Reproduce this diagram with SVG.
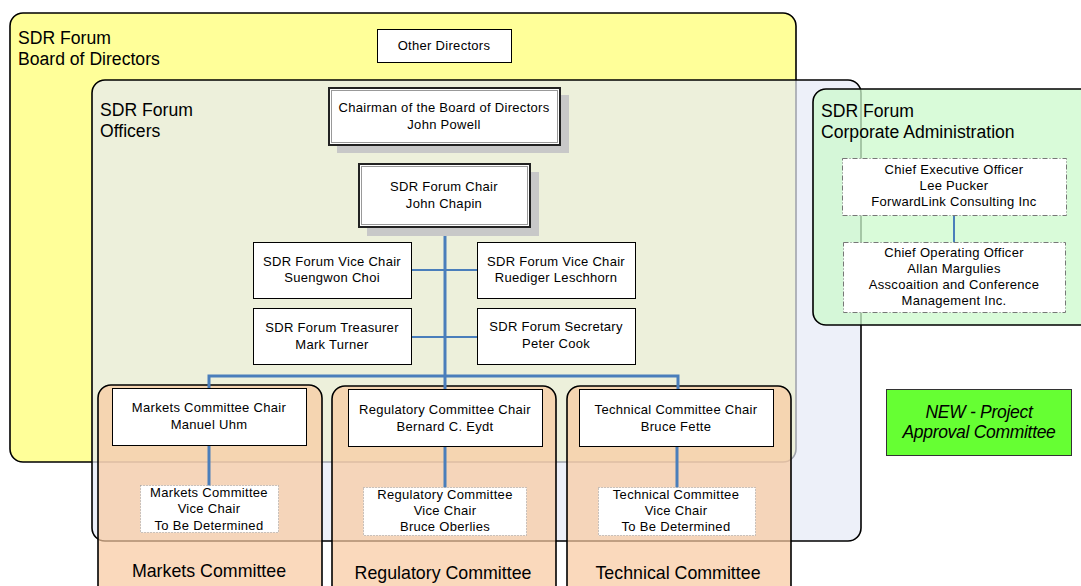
<svg xmlns="http://www.w3.org/2000/svg" width="1081" height="586" viewBox="0 0 1081 586">
<defs>
<style>
.t{font-family:"Liberation Sans",Arial,sans-serif;font-size:13px;letter-spacing:0.3px;fill:#000;text-anchor:middle}
.h{font-family:"Liberation Sans",Arial,sans-serif;font-size:17.6px;fill:#000}
.hc{font-family:"Liberation Sans",Arial,sans-serif;font-size:17.8px;fill:#000;text-anchor:middle}
.it{font-family:"Liberation Sans",Arial,sans-serif;font-size:17.5px;font-style:italic;letter-spacing:-0.3px;fill:#000;text-anchor:middle}
.box{fill:#fff;stroke:#000;stroke-width:1}
.dash{fill:#fff;stroke:#777;stroke-width:1;stroke-dasharray:5 2 1 2}
.dot{fill:#fff;stroke:#999;stroke-width:1;stroke-dasharray:1 2}
.shadow{fill:#c8c8c8}
.dbl{fill:#fff;stroke:#222;stroke-width:2}
.dbli{fill:none;stroke:#999;stroke-width:1}
.ln{stroke:#4a7ebb;stroke-width:3;fill:none}
.ln2{stroke:#4a7ebb;stroke-width:2;fill:none}
.cont{stroke:#000;stroke-width:1.6}
</style>
</defs>

<g id="board">
<rect x="10" y="13" width="786" height="449" rx="13" fill="#ffff99" class="cont"/>
<text class="h" x="18" y="44">SDR Forum</text>
<text class="h" x="18" y="65">Board of Directors</text>
</g>

<g id="officers">
<rect x="92" y="80" width="769" height="461" rx="13" fill="rgb(229,234,246)" fill-opacity="0.7" class="cont"/>
<text class="h" x="100" y="116">SDR Forum</text>
<text class="h" x="100" y="137">Officers</text>
</g>

<g id="corporate">
<rect x="813" y="89" width="280" height="236" rx="13" fill="#ccfacc" fill-opacity="0.75" class="cont"/>
<text class="h" x="821" y="117">SDR Forum</text>
<text class="h" x="821" y="138">Corporate Administration</text>
</g>

<g id="markets-committee">
<rect x="98" y="385" width="224" height="215" rx="13" fill="#f8c9a0" fill-opacity="0.7" class="cont"/>
<text class="hc" x="209" y="577">Markets Committee</text>
</g>
<g id="regulatory-committee">
<rect x="332" y="386" width="224" height="214" rx="13" fill="#f8c9a0" fill-opacity="0.7" class="cont"/>
<text class="hc" x="443" y="579">Regulatory Committee</text>
</g>
<g id="technical-committee">
<rect x="567" y="386" width="224" height="214" rx="13" fill="#f8c9a0" fill-opacity="0.7" class="cont"/>
<text class="hc" x="678" y="579">Technical Committee</text>
</g>

<g id="connectors">
<line class="ln" x1="445" y1="227" x2="445" y2="377"/>
<line class="ln2" x1="412" y1="270" x2="477" y2="270"/>
<line class="ln2" x1="412" y1="337" x2="477" y2="337"/>
<polyline class="ln" points="209,400 209,376 678,376 678,400"/>
<line class="ln" x1="445" y1="376" x2="445" y2="400"/>
<line class="ln" x1="209" y1="445" x2="209" y2="486"/>
<line class="ln" x1="445" y1="447" x2="445" y2="488"/>
<line class="ln" x1="677" y1="447" x2="677" y2="488"/>
<line class="ln2" x1="954" y1="215" x2="954" y2="242"/>
</g>

<g id="other-directors">
<rect class="box" x="377.5" y="29.5" width="134" height="33"/>
<text class="t" x="444" y="50">Other Directors</text>
</g>

<g id="chairman">
<rect class="shadow" x="337" y="95" width="232" height="58"/>
<rect class="dbl" x="329" y="88" width="231" height="57"/>
<rect class="dbli" x="331.5" y="90.5" width="226" height="52"/>
<text class="t" x="444" y="112">Chairman of the Board of Directors</text>
<text class="t" x="444" y="129">John Powell</text>
</g>

<g id="forum-chair">
<rect class="shadow" x="367" y="172" width="172" height="64"/>
<rect class="dbl" x="359" y="164" width="171" height="63"/>
<rect class="dbli" x="361.5" y="166.5" width="166" height="58"/>
<text class="t" x="444" y="191">SDR Forum Chair</text>
<text class="t" x="444" y="208">John Chapin</text>
</g>

<g id="vice-chair-1">
<rect class="box" x="253.5" y="242.5" width="158" height="56"/>
<text class="t" x="332" y="266">SDR Forum Vice Chair</text>
<text class="t" x="332" y="282">Suengwon Choi</text>
</g>
<g id="vice-chair-2">
<rect class="box" x="477.5" y="242.5" width="158" height="56"/>
<text class="t" x="556" y="266">SDR Forum Vice Chair</text>
<text class="t" x="556" y="282">Ruediger Leschhorn</text>
</g>
<g id="treasurer">
<rect class="box" x="253.5" y="308.5" width="158" height="56"/>
<text class="t" x="332" y="332">SDR Forum Treasurer</text>
<text class="t" x="332" y="349">Mark Turner</text>
</g>
<g id="secretary">
<rect class="box" x="477.5" y="308.5" width="158" height="56"/>
<text class="t" x="556" y="331">SDR Forum Secretary</text>
<text class="t" x="556" y="348">Peter Cook</text>
</g>

<g id="markets-chair">
<rect class="box" x="112.5" y="388.5" width="194" height="57"/>
<text class="t" x="209" y="412">Markets Committee Chair</text>
<text class="t" x="209" y="429">Manuel Uhm</text>
</g>
<g id="regulatory-chair">
<rect class="box" x="348.5" y="389.5" width="194" height="57"/>
<text class="t" x="445" y="414">Regulatory Committee Chair</text>
<text class="t" x="445" y="431">Bernard C. Eydt</text>
</g>
<g id="technical-chair">
<rect class="box" x="579.5" y="389.5" width="194" height="57"/>
<text class="t" x="676" y="414">Technical Committee Chair</text>
<text class="t" x="676" y="431">Bruce Fette</text>
</g>

<g id="markets-vice">
<rect class="dot" x="140.5" y="485.5" width="138" height="47"/>
<text class="t" x="209" y="497">Markets Committee</text>
<text class="t" x="209" y="513">Vice Chair</text>
<text class="t" x="209" y="530">To Be Determined</text>
</g>
<g id="regulatory-vice">
<rect class="dot" x="363.5" y="487.5" width="163" height="48"/>
<text class="t" x="445" y="499">Regulatory Committee</text>
<text class="t" x="445" y="515">Vice Chair</text>
<text class="t" x="445" y="531">Bruce Oberlies</text>
</g>
<g id="technical-vice">
<rect class="dot" x="598.5" y="487.5" width="157" height="48"/>
<text class="t" x="676" y="499">Technical Committee</text>
<text class="t" x="676" y="515">Vice Chair</text>
<text class="t" x="676" y="531">To Be Determined</text>
</g>

<g id="ceo">
<rect class="dash" x="842.5" y="158.5" width="224" height="57"/>
<text class="t" x="954" y="174">Chief Executive Officer</text>
<text class="t" x="954" y="190">Lee Pucker</text>
<text class="t" x="954" y="206">ForwardLink Consulting Inc</text>
</g>
<g id="coo">
<rect class="dash" x="843.5" y="242.5" width="222" height="70"/>
<text class="t" x="954" y="257">Chief Operating Officer</text>
<text class="t" x="954" y="273">Allan Margulies</text>
<text class="t" x="954" y="289">Asscoaition and Conference</text>
<text class="t" x="954" y="305">Management Inc.</text>
</g>

<g id="project-approval">
<rect x="886.5" y="389.5" width="185" height="66" fill="#66ff33" stroke="#333" stroke-width="1"/>
<text class="it" x="979" y="418">NEW - Project</text>
<text class="it" x="979" y="438">Approval Committee</text>
</g>
</svg>
